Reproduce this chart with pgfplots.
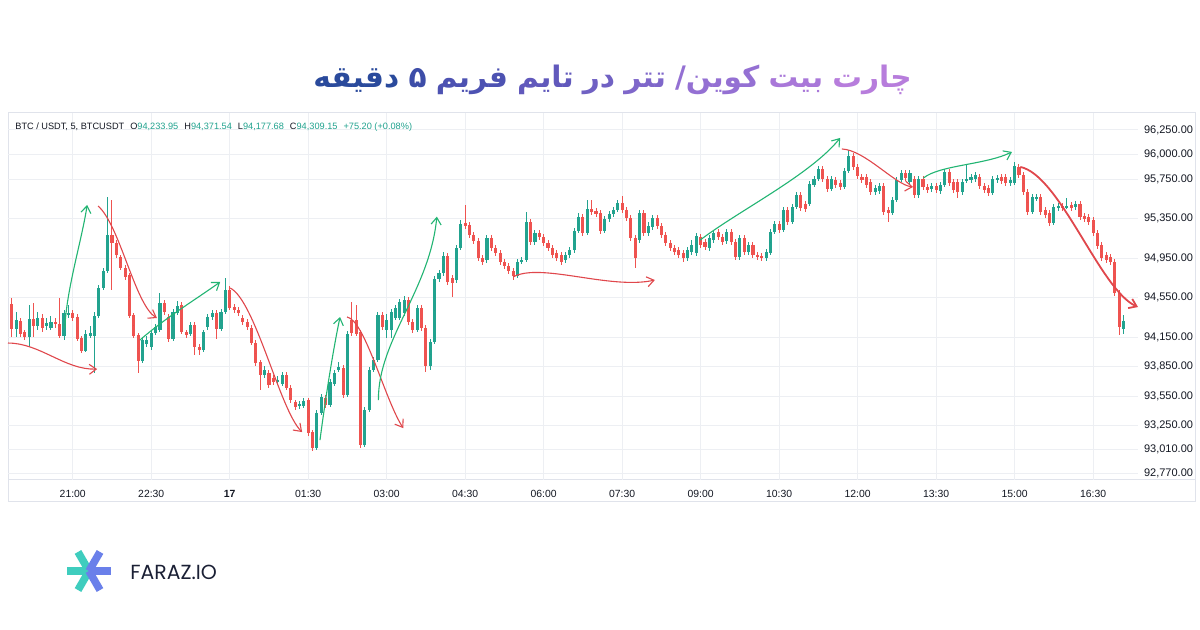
\documentclass[border=0pt]{standalone}
\usepackage{pgfplots}
\pgfplotsset{compat=1.18}
\usepackage{pgfplotstable}
\usepackage{fontspec}
\setmainfont{Liberation Sans}
\newfontfamily\arabicfont[Script=Arabic]{DejaVu Sans}
\newfontfamily\logofont{Poppins}
\TeXXeTstate=1
\usetikzlibrary{arrows.meta}
\definecolor{up}{HTML}{22A38F}
\definecolor{dn}{HTML}{EF5350}
\definecolor{agreen}{HTML}{22B573}
\definecolor{ared}{HTML}{E0474C}
\definecolor{gridc}{HTML}{EDEFF3}
\definecolor{framec}{HTML}{E0E3EB}
\definecolor{txt}{HTML}{131722}
\definecolor{t1}{HTML}{B77DDC}
\definecolor{t2}{HTML}{A978D9}
\definecolor{t3}{HTML}{9470D3}
\definecolor{t4}{HTML}{7F67CA}
\definecolor{t5}{HTML}{7061C3}
\definecolor{t6}{HTML}{6159BC}
\definecolor{t7}{HTML}{4D52B2}
\definecolor{t8}{HTML}{3D4DA8}
\definecolor{t9}{HTML}{2A4A9C}
\definecolor{lteal}{HTML}{3FCDBE}
\definecolor{lblue}{HTML}{6A80EA}
\definecolor{logotxt}{HTML}{1B2035}

\pgfplotstableread{
i o h l c
0 94485 94545 94150 94231
1 94231 94403 94150 94322
2 94312 94343 94150 94180
3 94200 94221 94119 94150
4 94150 94474 94048 94332
5 94332 94495 94150 94261
6 94261 94403 94221 94343
7 94343 94383 94200 94241
8 94261 94343 94221 94292
9 94241 94363 94221 94302
10 94302 94343 94241 94282
11 94282 94545 94140 94160
12 94160 94424 94119 94393
13 94383 94474 94343 94393
14 94393 94424 94312 94343
15 94353 94383 94109 94130
16 94140 94160 93988 94008
17 94008 94221 93998 94180
18 94160 94261 94140 94190
19 94160 94403 93785 94363
20 94363 94677 94343 94647
21 94647 94850 94627 94819
22 94819 95570 94799 95185
23 95185 95540 94627 95104
24 95104 95134 94951 94982
25 94961 94982 94830 94850
26 94850 94880 94728 94759
27 94779 94799 94343 94363
28 94373 94393 94140 94160
29 94170 94190 93785 93906
30 93906 94150 93886 94119
31 94079 94160 94048 94119
32 94048 94221 94018 94190
33 94190 94282 94170 94251
34 94221 94596 94200 94495
35 94495 94525 94373 94403
36 94353 94383 94099 94130
37 94130 94434 94109 94403
38 94393 94515 94373 94464
39 94474 94505 94180 94200
40 94200 94221 94140 94170
41 94180 94302 94160 94272
42 94272 94302 93967 94048
43 94048 94079 93967 94018
44 94018 94221 93998 94200
45 94251 94383 94221 94353
46 94353 94424 94322 94393
47 94393 94424 94130 94231
48 94231 94434 94211 94403
49 94403 94748 94383 94627
50 94627 94667 94424 94444
51 94454 94485 94393 94424
52 94424 94454 94363 94393
53 94343 94373 94272 94302
54 94302 94332 94221 94251
55 94241 94272 94069 94089
56 94089 94119 93856 93886
57 93896 93916 93612 93764
58 93764 93856 93734 93815
59 93785 93815 93632 93663
60 93734 93764 93663 93693
61 93703 93754 93673 93714
62 93673 93795 93653 93764
63 93764 93795 93612 93632
64 93632 93663 93480 93511
65 93490 93511 93409 93440
66 93450 93500 93419 93470
67 93450 93531 93430 93500
68 93511 93531 93145 93176
69 93186 93206 92993 93024
70 93024 93409 93003 93379
71 93379 93572 93358 93541
72 93531 93561 93430 93460
73 93460 93724 93440 93693
74 93673 93815 93653 93785
75 93815 93896 93795 93845
76 93835 93866 93531 93561
77 93561 94211 93541 94180
78 94322 94505 94160 94190
79 94322 94474 94160 94180
80 94200 94221 93024 93054
81 93054 93440 93034 93409
82 93409 93845 93389 93815
83 93815 93947 93795 93916
84 93916 94403 93896 94373
85 94373 94403 94221 94251
86 94221 94383 94140 94322
87 94221 94434 94140 94403
88 94343 94474 94322 94444
89 94343 94535 94322 94505
90 94393 94566 94363 94525
91 94525 94556 94272 94302
92 94302 94332 94190 94221
93 94221 94474 94200 94444
94 94444 94474 94211 94241
95 94241 94272 93795 93856
96 93856 94130 93815 94099
97 94099 94769 94079 94738
98 94738 94830 94708 94799
99 94799 95012 94769 94972
100 94972 95002 94677 94708
101 94748 94779 94556 94698
102 94728 95083 94698 95053
103 95053 95337 95032 95296
104 95306 95489 95246 95276
105 95286 95317 95154 95185
106 95185 95215 95093 95124
107 95124 95154 94921 94951
108 94951 94982 94880 94911
109 94931 95185 94901 95154
110 95154 95185 95022 95053
111 95053 95083 94972 95002
112 95002 95032 94880 94911
113 94911 94941 94840 94870
114 94870 94901 94789 94819
115 94819 94850 94728 94769
116 94769 94941 94748 94911
117 94911 94961 94890 94931
118 94931 95418 94911 95317
119 95317 95347 95083 95114
120 95114 95235 95083 95205
121 95205 95235 95134 95164
122 95164 95195 95073 95104
123 95104 95134 95022 95053
124 95053 95083 94951 94982
125 95002 95032 94921 94951
126 94982 95012 94880 94911
127 94931 95012 94901 94982
128 94982 95063 94951 95032
129 95032 95256 95002 95225
130 95225 95408 95205 95367
131 95367 95398 95175 95205
132 95205 95540 95185 95448
133 95448 95540 95388 95418
134 95428 95459 95367 95398
135 95408 95438 95195 95225
136 95225 95377 95205 95347
137 95347 95428 95317 95398
138 95398 95469 95367 95438
139 95438 95540 95418 95509
140 95509 95580 95408 95438
141 95438 95469 95327 95357
142 95357 95388 95124 95154
143 95154 95185 94850 94951
144 95134 95438 95104 95408
145 95408 95438 95175 95205
146 95205 95317 95175 95276
147 95266 95388 95235 95357
148 95357 95388 95246 95276
149 95276 95306 95154 95185
150 95185 95215 95073 95104
151 95104 95134 95022 95053
152 95053 95083 94982 95012
153 95032 95063 94951 94982
154 95002 95032 94911 94951
155 94951 95063 94921 95032
156 95012 95134 94982 95083
157 95002 95205 94972 95175
158 95164 95195 95053 95083
159 95114 95144 95032 95063
160 95053 95185 95022 95154
161 95134 95235 95104 95205
162 95215 95246 95134 95164
163 95164 95195 95083 95114
164 95124 95246 95093 95215
165 95215 95246 95083 95114
166 95114 95144 94931 94961
167 94961 95185 94931 95154
168 95154 95185 94982 95012
169 95012 95114 94982 95083
170 95083 95114 94951 94982
171 94982 95012 94931 94961
172 94972 95002 94921 94951
173 94951 95043 94921 95012
174 95002 95246 94982 95215
175 95215 95327 95195 95296
176 95296 95327 95205 95235
177 95235 95469 95215 95438
178 95438 95469 95286 95317
179 95317 95499 95296 95469
180 95469 95621 95448 95591
181 95591 95621 95428 95459
182 95499 95530 95418 95448
183 95499 95733 95479 95702
184 95692 95783 95672 95753
185 95753 95885 95733 95854
186 95854 95885 95722 95753
187 95753 95783 95621 95651
188 95651 95783 95631 95753
189 95743 95773 95662 95692
190 95712 95743 95641 95672
191 95672 95864 95651 95834
192 95834 96047 95814 95986
193 95986 96017 95844 95875
194 95875 95905 95753 95783
195 95773 95804 95712 95743
196 95773 95804 95662 95692
197 95722 95753 95591 95621
198 95621 95692 95591 95662
199 95631 95712 95601 95682
200 95682 95712 95388 95418
201 95438 95469 95317 95408
202 95408 95570 95388 95540
203 95540 95773 95519 95743
204 95743 95844 95722 95814
205 95814 95844 95733 95763
206 95722 95844 95702 95814
207 95753 95783 95560 95591
208 95591 95783 95560 95753
209 95753 95783 95641 95672
210 95672 95702 95611 95641
211 95651 95712 95621 95682
212 95682 95712 95611 95641
213 95631 95722 95601 95692
214 95692 95854 95672 95824
215 95824 95854 95682 95712
216 95722 95753 95611 95641
217 95722 95753 95560 95621
218 95621 95753 95591 95722
219 95733 95895 95712 95753
220 95743 95804 95712 95773
221 95753 95824 95722 95793
222 95773 95804 95651 95682
223 95682 95712 95611 95641
224 95662 95692 95580 95611
225 95611 95783 95591 95753
226 95743 95793 95712 95763
227 95773 95804 95702 95733
228 95773 95804 95682 95712
229 95712 95773 95682 95743
230 95712 95925 95692 95885
231 95875 95905 95763 95793
232 95793 95824 95591 95621
233 95621 95651 95388 95418
234 95418 95601 95398 95570
235 95560 95601 95530 95570
236 95570 95601 95388 95418
237 95438 95469 95357 95388
238 95408 95438 95276 95306
239 95306 95499 95286 95469
240 95459 95509 95428 95479
241 95479 95509 95428 95459
242 95469 95560 95448 95479
243 95489 95519 95428 95459
244 95469 95530 95438 95499
245 95499 95530 95337 95367
246 95377 95408 95317 95347
247 95367 95398 95286 95317
248 95337 95367 95175 95205
249 95205 95235 95043 95073
250 95083 95114 94921 94951
251 94982 95012 94901 94931
252 94961 94992 94880 94911
253 94911 94941 94566 94596
254 94596 94627 94170 94251
255 94234 94372 94178 94309
}\candles

\pgfplotsset{candle/.style={forget plot, only marks, mark=*, mark size=0pt,
  mark options={draw=none, fill=none}}}

\begin{document}
\begin{tikzpicture}
\path[fill=white] (0pt,0pt) rectangle (600pt,315pt);
\draw[framec, line width=0.5pt] (4pt,64pt) rectangle (597.5pt,258.5pt);
\draw[framec, line width=0.5pt] (4pt,75pt) -- (597.5pt,75pt);
\begin{axis}[
  at={(4pt,75pt)}, anchor=south west,
  scale only axis, width=565pt, height=183.5pt,
  xmin=-0.85, xmax=258.3, ymin=92700, ymax=96422,
  clip=false,
  axis line style={draw=none},
  major tick length=0pt,
  scaled y ticks=false, scaled x ticks=false,
  grid=major, major grid style={draw=gridc, line width=0.5pt},
  xtick={14,32,...,248},
  xticklabels={21:00,22:30,\textbf{17},01:30,03:00,04:30,06:00,07:30,09:00,10:30,12:00,13:30,15:00,16:30},
  xticklabel style={font=\fontsize{5.2}{6}\selectfont, text=txt, yshift=-1.5pt},
  ytick={92770,93010,93250,93550,93850,94150,94550,94950,95350,95750,96000,96250},
  yticklabels={{92,770.00},{93,010.00},{93,250.00},{93,550.00},{93,850.00},{94,150.00},{94,550.00},{94,950.00},{95,350.00},{95,750.00},{96,000.00},{96,250.00}},
  yticklabel pos=right,
  yticklabel style={font=\fontsize{5.5}{6.5}\selectfont, text=txt, xshift=-0.5pt},
]
% wicks
\addplot[candle,
  restrict expr to domain={\thisrow{c}-\thisrow{o}}{0:100000},
  error bars/.cd, y dir=both, y explicit, error mark=none,
  error bar style={draw=up, line width=0.5pt}]
  table[x=i, y expr={(\thisrow{h}+\thisrow{l})/2}, y error expr={(\thisrow{h}-\thisrow{l})/2}] {\candles};
\addplot[candle,
  restrict expr to domain={\thisrow{c}-\thisrow{o}}{-100000:-0.001},
  error bars/.cd, y dir=both, y explicit, error mark=none,
  error bar style={draw=dn, line width=0.5pt}]
  table[x=i, y expr={(\thisrow{h}+\thisrow{l})/2}, y error expr={(\thisrow{h}-\thisrow{l})/2}] {\candles};
% bodies
\addplot[candle,
  restrict expr to domain={\thisrow{c}-\thisrow{o}}{0:100000},
  error bars/.cd, y dir=both, y explicit, error mark=none,
  error bar style={draw=up, line width=1.55pt}]
  table[x=i, y expr={(\thisrow{o}+\thisrow{c})/2}, y error expr={abs(\thisrow{c}-\thisrow{o})/2}] {\candles};
\addplot[candle,
  restrict expr to domain={\thisrow{c}-\thisrow{o}}{-100000:-0.001},
  error bars/.cd, y dir=both, y explicit, error mark=none,
  error bar style={draw=dn, line width=1.55pt}]
  table[x=i, y expr={(\thisrow{o}+\thisrow{c})/2}, y error expr={abs(\thisrow{c}-\thisrow{o})/2}] {\candles};

% annotation arrows
\tikzset{arr/.style={line width=0.55pt, -{Straight Barb[length=3.5pt,width=5pt]}}}
\draw[arr, ared] (axis cs:-0.85,94089) .. controls (axis cs:6.5,94089) and (axis cs:12.2,93815) .. (axis cs:19.6,93825);
\draw[arr, agreen] (axis cs:12.2,94241) .. controls (axis cs:12.5,94627) and (axis cs:16.1,95134) .. (axis cs:17.3,95489);
\draw[arr, ared] (axis cs:19.8,95479) .. controls (axis cs:24.8,95286) and (axis cs:28.3,94474) .. (axis cs:33.3,94343);
\draw[arr, agreen] (axis cs:29.4,94119) .. controls (axis cs:35.2,94343) and (axis cs:42.0,94525) .. (axis cs:47.8,94708);
\draw[arr, ared] (axis cs:50.1,94647) .. controls (axis cs:55.8,94525) and (axis cs:61.5,93409) .. (axis cs:66.6,93186);
\draw[arr, agreen] (axis cs:70.7,93105) .. controls (axis cs:71.9,93511) and (axis cs:73.7,94018) .. (axis cs:75.3,94353);
\draw[arr, ared] (axis cs:76.9,94353) .. controls (axis cs:81.0,94322) and (axis cs:85.6,93511) .. (axis cs:89.8,93226);
\draw[arr, agreen] (axis cs:84.1,93511) .. controls (axis cs:84.0,94120) and (axis cs:95.9,94627) .. (axis cs:97.5,95371);
\draw[arr, ared] (axis cs:115.0,94759) .. controls (axis cs:121.2,94911) and (axis cs:137.2,94627) .. (axis cs:147.5,94728);
\draw[arr, agreen] (axis cs:157.9,95134) .. controls (axis cs:167.0,95438) and (axis cs:183.1,95793) .. (axis cs:190.0,96169);
\draw[arr, ared] (axis cs:190.4,96057) .. controls (axis cs:195.7,96047) and (axis cs:202.6,95692) .. (axis cs:206.7,95672);
\draw[arr, agreen] (axis cs:209.1,95763) .. controls (axis cs:212.9,95895) and (axis cs:223.2,95895) .. (axis cs:229.4,96027);
\draw[arr, ared, line width=0.9pt] (axis cs:231.3,95875) .. controls (axis cs:240.4,95793) and (axis cs:249.6,94627) .. (axis cs:258.3,94454);
\end{axis}

% header line
\node[anchor=west, inner sep=0pt, font=\fontsize{4.6}{5.5}\selectfont, text=txt] at (7.5pt,251.5pt)
 {BTC / USDT, 5, BTCUSDT\hspace{3pt}O\textcolor{up}{94,233.95}\hspace{3pt}H\textcolor{up}{94,371.54}\hspace{3pt}L\textcolor{up}{94,177.68}\hspace{3pt}C\textcolor{up}{94,309.15}\hspace{3pt}\textcolor{up}{+75.20 (+0.08\%)}};

% title
\begin{scope}[every node/.style={inner sep=0pt, anchor=base east, font=\arabicfont\bfseries\fontsize{14.8}{18}\selectfont}]
\def\tg{4.2pt}
\node[text=t1] (w1) at (456pt,271.3pt) {\beginR چارت\endR};
\node[text=t2] (w2) at ([xshift=-\tg]w1.base west) {\beginR بیت\endR};
\node[text=t3] (w3) at ([xshift=-\tg]w2.base west) {\beginR کوین/\endR};
\node[text=t4] (w4) at ([xshift=-\tg]w3.base west) {\beginR تتر\endR};
\node[text=t5] (w5) at ([xshift=-\tg]w4.base west) {\beginR در\endR};
\node[text=t6] (w6) at ([xshift=-\tg]w5.base west) {\beginR تایم\endR};
\node[text=t7] (w7) at ([xshift=-\tg]w6.base west) {\beginR فریم\endR};
\node[text=t8] (w8) at ([xshift=-\tg]w7.base west) {\beginR ۵\endR};
\node[text=t9] (w9) at ([xshift=-\tg]w8.base west) {\beginR دقیقه\endR};
\end{scope}

% logo
\begin{scope}[shift={(44.5pt,29.5pt)}, line width=3.8pt]
\draw[lteal] (-11pt,0pt) -- (0pt,0pt);
\draw[lteal] (0pt,0pt) -- (120:11pt);
\draw[lteal] (0pt,0pt) -- (240:11pt);
\draw[lblue] (0pt,0pt) -- (11pt,0pt);
\draw[lblue] (0pt,0pt) -- (60:11pt);
\draw[lblue] (0pt,0pt) -- (300:11pt);
\end{scope}
\node[anchor=base west, inner sep=0pt, text=logotxt, font=\logofont\fontsize{10.2}{12}\selectfont] at (65pt,25pt) {FARAZ.IO};
\end{tikzpicture}
\end{document}
